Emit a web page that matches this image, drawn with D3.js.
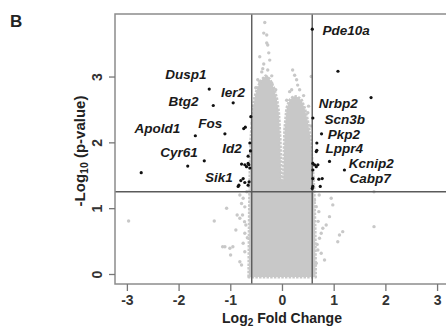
<!DOCTYPE html>
<html>
<head>
<meta charset="utf-8">
<script src="https://cdn.jsdelivr.net/npm/d3@7"></script>
<style>
  body { margin: 0; background: #fff; }
  text { font-family: "Liberation Sans", Arial, sans-serif; }
</style>
</head>
<body>
<div id="chart"></div>
<script>
// axis ticks
const xTicks = [-3, -2, -1, 0, 1, 2, 3];
const yTicks = [0, 1, 2, 3];

// cut-offs (fold change 1.5, p threshold as drawn)
const fcCut = 0.585;
const pCut = 1.25;

// upper edge of the dense cloud of non-significant genes [log2FC, -log10 p]
const cloudTop = [
  [-0.642, -0.046], [-0.632, 0.82], [-0.622, 1.43], [-0.603, 2.04], [-0.565, 2.46],
  [-0.526, 2.69], [-0.468, 2.84], [-0.391, 2.95], [-0.314, 3.01], [-0.237, 2.96],
  [-0.160, 2.83], [-0.102, 2.67], [-0.064, 2.46], [-0.035, 2.04], [-0.015, 1.43],
  [0.023, 1.40], [0.052, 2.19], [0.091, 2.52], [0.148, 2.64], [0.225, 2.70],
  [0.303, 2.69], [0.380, 2.64], [0.437, 2.52], [0.495, 2.34], [0.543, 2.11],
  [0.582, 1.73], [0.620, 1.28], [0.640, 0.67], [0.649, -0.046]
];
const cloudBase = -0.046;

// scattered non-significant genes
const grayPoints = [
  [-2.967, 0.805], [-1.31, 0.805], [-1.148, 0.415], [-1.071, 0.998], [-1.104, 0.415],
  [-1.008, 0.39], [-0.994, 0.289], [-0.892, 0.669], [-0.867, 0.897], [-0.815, 0.847],
  [-0.815, 1.20], [-0.751, 1.15], [-0.782, 1.07], [-0.719, 1.02], [-0.763, 0.897],
  [-0.699, 0.745], [-0.719, 0.619], [-0.751, 0.467], [-0.719, 0.339], [-0.815, 0.187],
  [-0.782, 0.137], [-0.95, 0.415], [-0.724, 0.795], [-0.68, 1.25], [-0.67, 0.55],
  [0.952, 1.15], [0.983, 1.05], [0.919, 0.871], [0.855, 0.745], [0.790, 0.695],
  [0.759, 0.619], [1.175, 0.643], [1.112, 0.593], [1.079, 0.491], [0.726, 0.543],
  [0.694, 0.365], [0.759, 0.315], [0.823, 0.213], [0.663, 0.163], [0.713, 0.947],
  [0.630, 1.125], [0.663, 1.023], [1.78, 0.719], [1.78, 1.25], [0.70, 0.80],
  [0.68, 0.45], [0.72, 1.20],
  [-0.333, 3.82], [-0.353, 3.66], [-0.295, 3.63], [-0.295, 3.51], [-0.276, 3.48],
  [-0.43, 3.30], [-0.256, 3.36], [-0.237, 3.25], [-0.372, 3.12], [-0.295, 2.99],
  [-0.43, 2.92], [-0.198, 2.90], [0.206, 3.10], [0.245, 3.02], [0.283, 2.95],
  [0.303, 2.87], [0.187, 2.80], [0.514, 2.55], [0.566, 3.0],
  [-0.391, 3.07], [-0.276, 3.10], [-0.468, 2.95], [-0.198, 3.01], [-0.507, 2.83],
  [-0.121, 2.80], [-0.353, 3.19], [0.148, 2.77], [0.341, 2.80], [0.418, 2.71],
  [0.091, 2.64], [-0.55, 2.55], [-0.58, 2.30], [0.50, 2.45], [0.56, 2.25]
];

// significant genes
const sigPoints = [
  [0.586, 3.72], [1.083, 3.08], [1.723, 2.68], [-1.407, 2.81], [-0.944, 2.60],
  [-1.329, 2.56], [-0.603, 2.39], [0.597, 2.37], [-0.709, 2.23], [-0.74, 2.21],
  [-1.104, 2.13], [-1.676, 2.10], [0.765, 2.13], [-0.622, 1.99], [0.674, 1.99],
  [0.674, 1.88], [-0.655, 1.79], [-1.503, 1.72], [0.919, 1.71], [-1.823, 1.64],
  [-2.723, 1.54], [1.208, 1.58], [-0.782, 1.67], [-0.719, 1.66], [-0.655, 1.68],
  [-0.622, 1.61], [-0.686, 1.63], [-0.642, 1.66], [0.630, 1.66], [0.663, 1.63],
  [0.597, 1.68], [0.694, 1.66], [0.597, 1.58], [-0.796, 1.42], [-0.834, 1.35],
  [-0.719, 1.39], [-0.655, 1.35], [-0.751, 1.45], [-0.848, 1.33], [-0.636, 1.40],
  [0.778, 1.45], [0.740, 1.33], [0.597, 1.45], [0.586, 1.30], [0.713, 1.44],
  [0.597, 1.33], [0.663, 1.86], [-0.61, 1.87]
];

// gene annotations, anchored at their text start
const geneLabels = [
  {gene: "Pde10a", x: 0.784, y: 3.632},
  {gene: "Dusp1", x: -2.26, y: 2.959},
  {gene: "Ier2", x: -1.181, y: 2.695},
  {gene: "Btg2", x: -2.197, y: 2.553},
  {gene: "Fos", x: -1.618, y: 2.219},
  {gene: "Apold1", x: -2.852, y: 2.138},
  {gene: "Id2", x: -1.156, y: 1.834},
  {gene: "Cyr61", x: -2.356, y: 1.774},
  {gene: "Sik1", x: -1.489, y: 1.403},
  {gene: "Nrbp2", x: 0.713, y: 2.527},
  {gene: "Scn3b", x: 0.823, y: 2.274},
  {gene: "Pkp2", x: 0.886, y: 2.052},
  {gene: "Lppr4", x: 0.842, y: 1.843},
  {gene: "Kcnip2", x: 1.291, y: 1.606},
  {gene: "Cabp7", x: 1.304, y: 1.378}
];

const W = 446, H = 331;
const svg = d3.select("#chart").append("svg")
  .attr("width", W).attr("height", H);

const x = d3.scaleLinear().domain([-3.23, 3.25]).range([115, 450]);
const y = d3.scaleLinear().domain([-0.152, 3.95]).range([284, 14]);

const grey = "#c8c8c8";

// dense cloud
const cloud = d3.area()
  .x(d => x(d[0]))
  .y0(y(cloudBase))
  .y1(d => y(d[1]));
svg.append("path")
  .datum(cloudTop)
  .attr("d", cloud)
  .attr("fill", grey)
  .attr("stroke", grey)
  .attr("stroke-width", 3)
  .attr("stroke-dasharray", "2.5 1.2")
  .attr("stroke-linejoin", "round");

svg.append("g").selectAll("circle")
  .data(grayPoints)
  .enter().append("circle")
  .attr("cx", d => x(d[0]))
  .attr("cy", d => y(d[1]))
  .attr("r", 1.7)
  .attr("fill", grey);

// threshold lines
const lines = svg.append("g")
  .attr("stroke", "#5a5a5a")
  .attr("stroke-width", 1.4);
[-fcCut, fcCut].forEach(v => {
  lines.append("line")
    .attr("x1", x(v)).attr("x2", x(v))
    .attr("y1", y.range()[1]).attr("y2", y.range()[0]);
});
lines.append("line")
  .attr("x1", x.range()[0]).attr("x2", x.range()[1])
  .attr("y1", y(pCut)).attr("y2", y(pCut));

svg.append("g").selectAll("circle")
  .data(sigPoints)
  .enter().append("circle")
  .attr("cx", d => x(d[0]))
  .attr("cy", d => y(d[1]))
  .attr("r", 1.6)
  .attr("fill", "#111");

// frame
svg.append("rect")
  .attr("x", x.range()[0]).attr("y", y.range()[1])
  .attr("width", x.range()[1] - x.range()[0])
  .attr("height", y.range()[0] - y.range()[1])
  .attr("fill", "none")
  .attr("stroke", "#8c8c8c")
  .attr("stroke-width", 1.5);

// axes
const xAxis = svg.append("g")
  .attr("transform", `translate(0,${y.range()[0]})`)
  .call(d3.axisBottom(x).tickValues(xTicks).tickSize(7).tickPadding(4));
const yAxis = svg.append("g")
  .attr("transform", `translate(${x.range()[0]},0)`)
  .call(d3.axisLeft(y).tickValues(yTicks).tickSize(6));

[xAxis, yAxis].forEach(a => {
  a.select(".domain").remove();
  a.selectAll(".tick line").attr("stroke", "#777").attr("stroke-width", 1.3);
  a.selectAll(".tick text")
    .attr("fill", "#333")
    .style("font-size", "14px")
    .style("font-weight", "bold")
    .style("font-family", "'Liberation Sans', Arial, sans-serif")
    .text(d => String(d));
});
yAxis.selectAll(".tick text")
  .attr("transform", "rotate(-90)")
  .attr("x", 0).attr("y", -13).attr("dy", 0)
  .attr("text-anchor", "middle");

// gene labels
svg.append("g").selectAll("text")
  .data(geneLabels)
  .enter().append("text")
  .attr("x", d => x(d.x))
  .attr("y", d => y(d.y))
  .attr("fill", "#1a1a1a")
  .style("font-size", "13.5px")
  .style("font-weight", "bold")
  .style("font-style", "italic")
  .text(d => d.gene);

// axis titles
const xt = svg.append("text")
  .attr("x", 282).attr("y", 323)
  .attr("text-anchor", "middle")
  .attr("fill", "#222")
  .style("font-size", "14px").style("font-weight", "bold");
xt.append("tspan").text("Log");
xt.append("tspan").text("2").style("font-size", "10px").attr("dy", 3);
xt.append("tspan").text(" Fold Change").attr("dy", -3);

const yt = svg.append("text")
  .attr("transform", "translate(84.5,151) rotate(-90)")
  .attr("text-anchor", "middle")
  .attr("fill", "#222")
  .style("font-size", "15px").style("font-weight", "bold");
yt.append("tspan").text("-Log");
yt.append("tspan").text("10").style("font-size", "10.5px").attr("dy", 3);
yt.append("tspan").text(" (p-value)").attr("dy", -3);

// panel letter
svg.append("text")
  .attr("x", 10).attr("y", 27.3)
  .attr("fill", "#222")
  .style("font-size", "17px").style("font-weight", "bold")
  .text("B");
</script>
</body>
</html>
